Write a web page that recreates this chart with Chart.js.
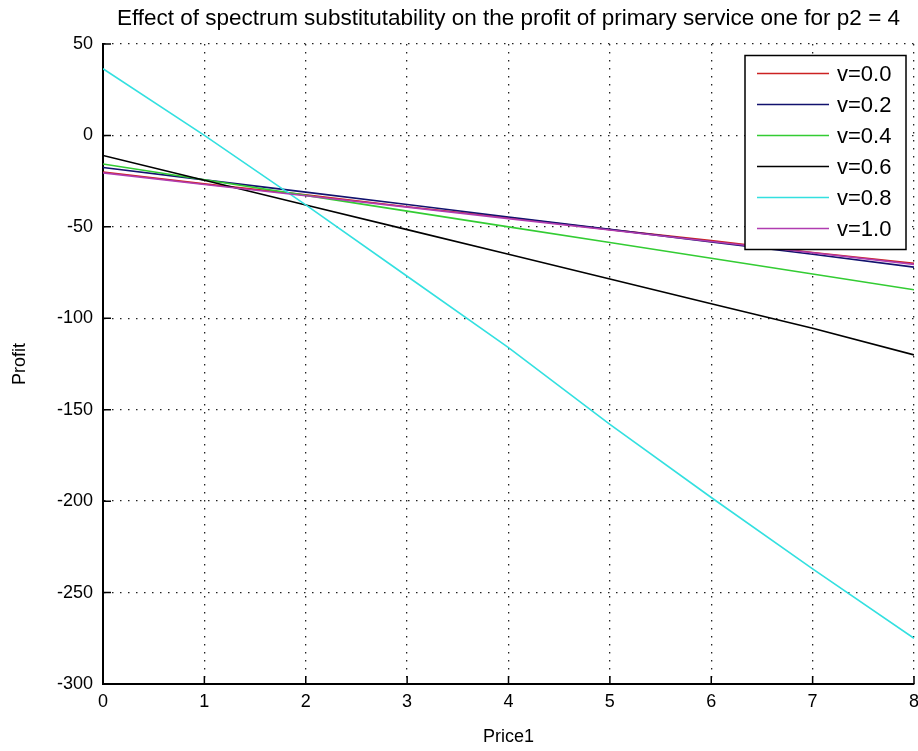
<!DOCTYPE html>
<html>
<head>
<meta charset="utf-8">
<title>Profit vs Price1</title>
<script src="https://cdn.jsdelivr.net/npm/chart.js@4.4.1/dist/chart.umd.min.js"></script>
<style>
  html, body { margin: 0; padding: 0; background: #fff; }
  #wrap { width: 918px; height: 751px; }
</style>
</head>
<body>
<div id="wrap"><canvas id="profitChart" width="918" height="751"></canvas></div>
<script>
// price of service one (x) and profit for each substitutability level
const price1 = [0, 1, 2, 3, 4, 5, 6, 7, 8];
const seriesLabels = ['v=0.0', 'v=0.2', 'v=0.4', 'v=0.6', 'v=0.8', 'v=1.0'];
const profitV00 = [-20, -26.5, -32.5, -39, -45, -51.5, -57.5, -64, -70];
const profitV02 = [-17.5, -24.3, -31, -37.8, -44.6, -51.4, -58.2, -65, -72];
const profitV04 = [-15.6, -24.2, -32.8, -41.4, -50, -58.6, -67.2, -75.8, -84.4];
const profitV06 = [-11, -24.5, -38, -51.5, -65, -78.5, -92, -105.5, -120];
const profitV08 = [36.5, 0, -38, -77, -116, -158, -198, -237, -275];
const profitV10 = [-20.5, -26.8, -33, -39.2, -45.5, -51.7, -58, -64.2, -70.5];
const xTicks = [0, 1, 2, 3, 4, 5, 6, 7, 8];
const yTicks = [50, 0, -50, -100, -150, -200, -250, -300];

const FONT = "'Liberation Sans', Arial, sans-serif";
const colors = ['#cc2222', '#12126e', '#33cc33', '#000000', '#33e0e0', '#b03cb0'];
const allSeries = [profitV00, profitV02, profitV04, profitV06, profitV08, profitV10];

const datasets = allSeries.map((vals, i) => ({
    label: seriesLabels[i],
    data: vals.map((v, j) => ({ x: price1[j], y: v })),
    borderColor: colors[i],
    borderWidth: 1.6,
    pointRadius: 0,
    fill: false,
    tension: 0,
    order: allSeries.length - i   // later series drawn on top
}));

// matlab-style ticks pointing into the plot
const insideTicks = {
    id: 'insideTicks',
    afterDraw(chart) {
        const { ctx, chartArea, scales: { x, y } } = chart;
        ctx.save();
        ctx.strokeStyle = '#000';
        ctx.lineWidth = 1.5;
        ctx.beginPath();
        x.ticks.forEach(t => {
            const px = x.getPixelForValue(t.value);
            ctx.moveTo(px, chartArea.bottom);
            ctx.lineTo(px, chartArea.bottom - 8);
        });
        y.ticks.forEach(t => {
            const py = y.getPixelForValue(t.value);
            ctx.moveTo(chartArea.left, py);
            ctx.lineTo(chartArea.left + 8, py);
        });
        ctx.stroke();
        ctx.restore();
    }
};

// boxed legend in the upper right corner of the axes
const boxLegend = {
    id: 'boxLegend',
    afterDraw(chart) {
        const { ctx, chartArea } = chart;
        const w = 161, h = 194;
        const bx = chartArea.right - 8 - w;
        const by = chartArea.top + 11.5;
        ctx.save();
        ctx.fillStyle = '#fff';
        ctx.fillRect(bx, by, w, h);
        ctx.strokeStyle = '#000';
        ctx.lineWidth = 1.5;
        ctx.strokeRect(bx, by, w, h);
        ctx.font = '22px ' + FONT;
        ctx.textBaseline = 'middle';
        ctx.textAlign = 'left';
        chart.data.datasets.forEach((ds, i) => {
            const ly = by + 18 + i * 31;
            ctx.strokeStyle = ds.borderColor;
            ctx.lineWidth = 1.6;
            ctx.beginPath();
            ctx.moveTo(bx + 12, ly);
            ctx.lineTo(bx + 84, ly);
            ctx.stroke();
            ctx.fillStyle = '#000';
            ctx.fillText(ds.label, bx + 92, ly + 1);
        });
        ctx.restore();
    }
};

const ctx = document.getElementById('profitChart').getContext('2d');
const profitChart = new Chart(ctx, {
    type: 'line',
    data: { datasets: datasets },
    options: {
        responsive: false,
        animation: false,
        layout: { padding: { left: 0, right: 4, top: 0, bottom: 0 } },
        plugins: {
            legend: { display: false },
            tooltip: { enabled: false },
            title: {
                display: true,
                fullSize: false,
                text: 'Effect of spectrum substitutability on the profit of primary service one for p2 = 4',
                color: '#000',
                font: { family: FONT, size: 22.5, weight: 'normal' },
                padding: { top: 5, bottom: 12 }
            }
        },
        scales: {
            x: {
                type: 'linear',
                min: 0,
                max: 8,
                afterBuildTicks: s => { s.ticks = xTicks.map(v => ({ value: v })); },
                afterFit: s => { s.height = 67; s.paddingLeft = 0; s.paddingRight = 0; },
                ticks: { color: '#000', font: { family: FONT, size: 18 }, padding: 7, autoSkip: false, maxRotation: 0 },
                grid: { color: '#222', lineWidth: 1.3, drawTicks: false },
                border: { display: true, color: '#000', width: 2, dash: [1.5, 6.5] },
                title: { display: true, text: 'Price1', color: '#000', font: { family: FONT, size: 18 }, padding: { top: 0, bottom: 3 } }
            },
            y: {
                min: -300,
                max: 50,
                afterBuildTicks: s => { s.ticks = yTicks.map(v => ({ value: v })); },
                afterFit: s => { s.width = 103; },
                ticks: { color: '#000', font: { family: FONT, size: 18 }, padding: 10 },
                grid: { color: '#222', lineWidth: 1.3, drawTicks: false },
                border: { display: true, color: '#000', width: 2, dash: [1.5, 6.5] },
                title: { display: true, text: 'Profit', color: '#000', font: { family: FONT, size: 18 }, padding: { top: 9, bottom: 0 } }
            }
        }
    },
    plugins: [insideTicks, boxLegend]
});
</script>
</body>
</html>
